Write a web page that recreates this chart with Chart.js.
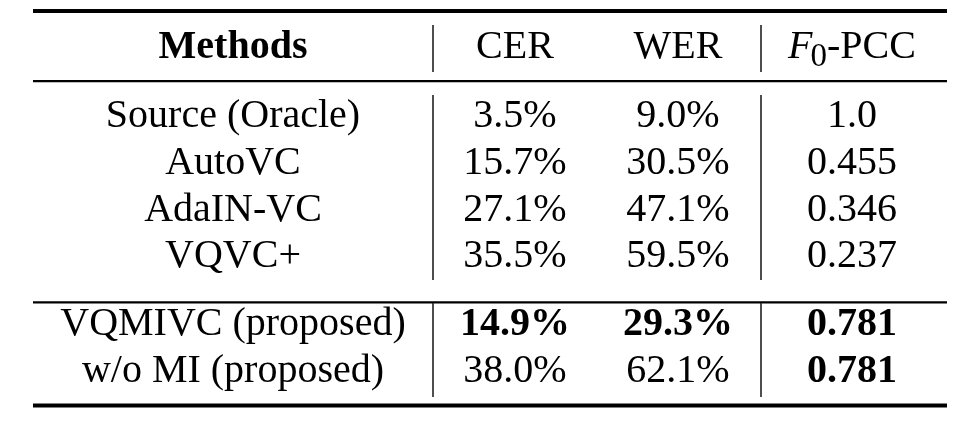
<!DOCTYPE html>
<html>
<head>
<meta charset="utf-8">
<script src="https://cdn.jsdelivr.net/npm/chart.js@4.4.1/dist/chart.umd.min.js"></script>
<style>
  html, body { margin: 0; padding: 0; background: #ffffff; }
  #wrap { width: 962px; height: 422px; }
</style>
</head>
<body>
<div id="wrap"><canvas id="c" width="962" height="422"></canvas></div>
<script>
// ---- data ----
const columns = ['Methods', 'CER', 'WER', 'F0-PCC'];
const methods = ['Source (Oracle)', 'AutoVC', 'AdaIN-VC', 'VQVC+', 'VQMIVC (proposed)', 'w/o MI (proposed)'];
const cer = [3.5, 15.7, 27.1, 35.5, 14.9, 38.0];
const wer = [9.0, 30.5, 47.1, 59.5, 29.3, 62.1];
const f0pcc = [1.0, 0.455, 0.346, 0.237, 0.781, 0.781];
const groups = [0, 0, 0, 0, 1, 1];
// best values shown in bold: [row, column]
const boldCells = [[4, 1], [4, 2], [4, 3], [5, 3]];

// ---- layout (scale units) ----
const colCenters = [233, 515, 678, 852];      // x scale units
const colSeparators = [433, 761];              // x scale units
const tableLeft = 33, tableRight = 947;
const groupGap = 0.45;                         // extra row units between groups
const headerRow = -1.47;
const FONT = '"Liberation Serif", "Times New Roman", serif';
const FS = 40;

function rowPos(i) { return i + groups[i] * groupGap; }
function fmtPct(v) { return v.toFixed(1) + '%'; }
function fmtF0(v) { return v === 1 ? v.toFixed(1) : v.toFixed(3); }
function isBold(r, c) { return boldCells.some(b => b[0] === r && b[1] === c); }

const points = [];
methods.forEach((m, i) => {
  const y = rowPos(i);
  points.push({ x: colCenters[0], y, text: m, bold: false });
  points.push({ x: colCenters[1], y, text: fmtPct(cer[i]), bold: isBold(i, 1) });
  points.push({ x: colCenters[2], y, text: fmtPct(wer[i]), bold: isBold(i, 2) });
  points.push({ x: colCenters[3], y, text: fmtF0(f0pcc[i]), bold: isBold(i, 3) });
});
const headerPoints = columns.map((c, j) => ({ x: colCenters[j], y: headerRow, text: c, bold: j === 0 }));

const tablePlugin = {
  id: 'tablePlugin',
  afterDatasetsDraw(chart) {
    const ctx = chart.ctx;
    const xs = chart.scales.x, ys = chart.scales.y;
    ctx.save();
    ctx.fillStyle = '#000';
    ctx.strokeStyle = '#000';
    // horizontal rules
    const hline = (v, w) => {
      const y = ys.getPixelForValue(v);
      ctx.lineWidth = w;
      ctx.beginPath();
      ctx.moveTo(xs.getPixelForValue(tableLeft), y);
      ctx.lineTo(xs.getPixelForValue(tableRight), y);
      ctx.stroke();
    };
    hline(-2.48, 4);
    hline(-0.98, 2.2);
    hline((rowPos(3) + rowPos(4)) / 2 + 0.02, 2.2);
    hline(rowPos(5) + 0.5, 4);
    // vertical separators (broken at rules)
    const segs = [[-2.18, -1.175], [-0.684, 3.27], [3.76, 5.77]];
    ctx.lineWidth = 1.6;
    ctx.strokeStyle = '#222';
    colSeparators.forEach(sx => {
      const px = xs.getPixelForValue(sx);
      segs.forEach(s => {
        ctx.beginPath();
        ctx.moveTo(px, ys.getPixelForValue(s[0]));
        ctx.lineTo(px, ys.getPixelForValue(s[1]));
        ctx.stroke();
      });
    });
    // cell texts placed by the dataset elements
    ctx.textBaseline = 'alphabetic';
    const meta0 = chart.getDatasetMeta(0);
    meta0.data.forEach((el, k) => {
      const p = points[k];
      ctx.font = (p.bold ? 'bold ' : '') + FS + 'px ' + FONT;
      ctx.textAlign = 'center';
      ctx.fillText(p.text, el.x, el.y);
    });
    const meta1 = chart.getDatasetMeta(1);
    meta1.data.forEach((el, k) => {
      const p = headerPoints[k];
      if (p.text === 'F0-PCC') {
        const fI = 'italic ' + FS + 'px ' + FONT;
        const fS = '33px ' + FONT;
        const fR = FS + 'px ' + FONT;
        ctx.font = fI; const w1 = ctx.measureText('F').width;
        ctx.font = fS; const w2 = ctx.measureText('0').width;
        ctx.font = fR; const w3 = ctx.measureText('-PCC').width;
        const total = w1 + w2 + w3 - 2;
        let x = el.x - total / 2;
        ctx.textAlign = 'left';
        ctx.font = fI; ctx.fillText('F', x, el.y); x += w1 - 2;
        ctx.font = fS; ctx.fillText('0', x, el.y + 8); x += w2;
        ctx.font = fR; ctx.fillText('-PCC', x, el.y);
      } else {
        ctx.font = (p.bold ? 'bold ' : '') + FS + 'px ' + FONT;
        ctx.textAlign = 'center';
        ctx.fillText(p.text, el.x, el.y);
      }
    });
    ctx.restore();
  }
};

new Chart(document.getElementById('c'), {
  type: 'scatter',
  data: {
    datasets: [
      { data: points, pointRadius: 0, pointHoverRadius: 0 },
      { data: headerPoints, pointRadius: 0, pointHoverRadius: 0 }
    ]
  },
  options: {
    responsive: false,
    animation: false,
    layout: { padding: 0 },
    events: [],
    plugins: { legend: { display: false }, tooltip: { enabled: false } },
    scales: {
      x: { type: 'linear', display: false, min: 0, max: 962 },
      y: { type: 'linear', display: false, reverse: true, min: -2.714, max: 6.303 }
    }
  },
  plugins: [tablePlugin]
});
</script>
</body>
</html>
